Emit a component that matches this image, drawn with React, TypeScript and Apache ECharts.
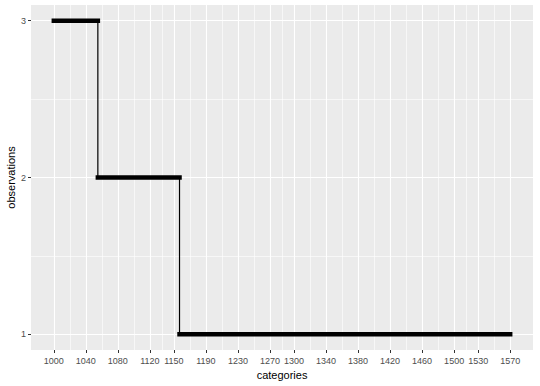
import React, { useEffect, useRef } from "react";
import * as echarts from "echarts";

const xBreaks = [1000, 1040, 1080, 1120, 1150, 1190, 1230, 1270, 1300, 1340, 1380, 1420, 1460, 1500, 1530, 1570];
const yBreaks = [1, 2, 3];
const stepStarts = [1000, 1055, 1157];
const stepEnds = [1055, 1157, 1570];
const observations = [3, 2, 1];

export default function App() {
  const ref = useRef<HTMLDivElement>(null);
  useEffect(() => {
    if (!ref.current) return;
    const chart = echarts.init(ref.current, null, { renderer: "svg" });
    const xMin = 1000 - 0.05 * (1570 - 1000);
    const xMax = 1570 + 0.05 * (1570 - 1000);
    const yMin = 1 - 0.05 * 2;
    const yMax = 3 + 0.05 * 2;
    const xMinor: number[] = [];
    for (let i = 0; i < xBreaks.length - 1; i++) xMinor.push((xBreaks[i] + xBreaks[i + 1]) / 2);
    const yMinor: number[] = [];
    for (let i = 0; i < yBreaks.length - 1; i++) yMinor.push((yBreaks[i] + yBreaks[i + 1]) / 2);

    const gridLine = (vals: number[], axis: "xAxis" | "yAxis", width: number) => ({
      type: "line",
      data: [],
      z: 1,
      silent: true,
      markLine: {
        silent: true,
        z: 1,
        symbol: "none",
        animation: false,
        label: { show: false },
        lineStyle: { color: "#FFFFFF", width, type: "solid", opacity: 1 },
        data: vals.map((v) => ({ [axis]: v })),
      },
    });

    const horiz: any[] = [];
    observations.forEach((y, i) => {
      horiz.push([stepStarts[i], y], [stepEnds[i], y]);
      if (i < observations.length - 1) horiz.push([null, null]);
    });
    const vert: any[] = [];
    for (let i = 0; i < observations.length - 1; i++) {
      vert.push([stepEnds[i], observations[i]], [stepEnds[i], observations[i + 1]]);
      if (i < observations.length - 2) vert.push([null, null]);
    }

    chart.setOption({
      animation: false,
      grid: {
        left: 31,
        right: 7,
        top: 5,
        bottom: 36,
        show: true,
        backgroundColor: "#EBEBEB",
        borderWidth: 0,
        containLabel: false,
        outerBoundsMode: "none",
      },
      xAxis: {
        type: "value",
        min: xMin,
        max: xMax,
        name: "categories",
        nameLocation: "middle",
        nameGap: 19,
        nameMoveOverlap: false,
        nameTextStyle: { color: "#000000", fontSize: 11, fontFamily: "Liberation Sans" },
        axisLine: { show: false },
        splitLine: { show: false },
        axisTick: { show: true, length: 3, lineStyle: { color: "#333333" }, customValues: xBreaks },
        axisLabel: {
          color: "#4D4D4D",
          fontSize: 9,
          fontFamily: "Liberation Sans",
          margin: 6,
          customValues: xBreaks,
          formatter: (v: number) => String(v),
        },
      },
      yAxis: {
        type: "value",
        min: yMin,
        max: yMax,
        name: "observations",
        nameLocation: "middle",
        nameGap: 15,
        nameMoveOverlap: false,
        nameTextStyle: { color: "#000000", fontSize: 11, fontFamily: "Liberation Sans" },
        axisLine: { show: false },
        splitLine: { show: false },
        axisTick: { show: true, length: 3, lineStyle: { color: "#333333" }, customValues: yBreaks },
        axisLabel: {
          color: "#4D4D4D",
          fontSize: 9,
          fontFamily: "Liberation Sans",
          margin: 5,
          customValues: yBreaks,
          formatter: (v: number) => String(v),
        },
      },
      series: [
        gridLine(xMinor, "xAxis", 0.6),
        gridLine(yMinor, "yAxis", 0.6),
        gridLine(xBreaks, "xAxis", 1.1),
        gridLine(yBreaks, "yAxis", 1.1),
        {
          type: "line",
          data: vert,
          z: 10,
          symbol: "none",
          connectNulls: false,
          lineStyle: { color: "#000000", width: 1.2 },
        },
        {
          type: "line",
          data: horiz,
          z: 11,
          symbol: "none",
          connectNulls: false,
          lineStyle: { color: "#000000", width: 4.5, cap: "square" },
        },
      ],
    });
    return () => chart.dispose();
  }, []);
  return (
    <div
      ref={ref}
      style={{ position: "fixed", left: 0, top: 0, width: 540, height: 386, background: "#FFFFFF" }}
    />
  );
}
